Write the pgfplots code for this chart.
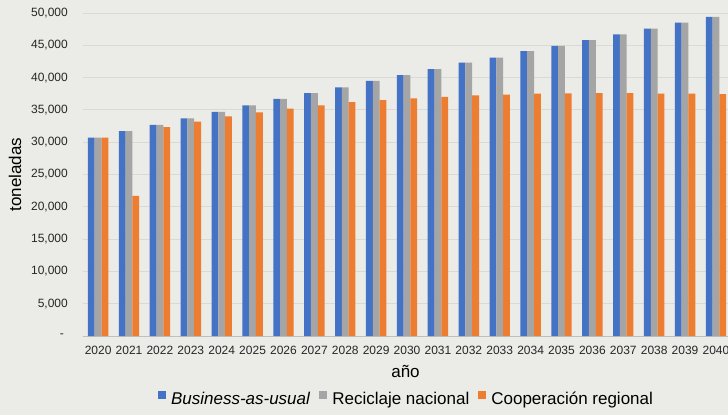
\documentclass[border=0pt]{standalone}
\usepackage{pgfplots}
\pgfplotsset{compat=1.18}
\usepackage{fontspec}
\setmainfont{Liberation Sans}
\definecolor{bg}{HTML}{EBEBE7}
\definecolor{gridc}{HTML}{D9D9D6}
\definecolor{axc}{HTML}{BFBFBF}
\definecolor{cblue}{HTML}{4472C4}
\definecolor{cgray}{HTML}{A5A5A5}
\definecolor{corange}{HTML}{ED7D31}
\begin{document}
\begin{tikzpicture}
\fill[bg] (-83pt,-79pt) rectangle (645pt,336pt);
\begin{axis}[
  at={(0,0)}, anchor=south west,
  scale only axis, width=645pt, height=323pt,
  xmin=-0.49, xmax=20.39, ymin=0, ymax=50000,
  scaled y ticks=false,
  ybar, bar width=0.22,
  axis x line=bottom, axis y line=left,
  x axis line style={-, draw=axc, line width=0.8pt},
  y axis line style={-, draw=none},
  major tick length=0pt,
  ymajorgrids, grid style={gridc, line width=0.8pt},
  ytick={0,5000,10000,15000,20000,25000,30000,35000,40000,45000,50000},
  yticklabels={{-\phantom{-}},{5,000},{10,000},{15,000},{20,000},{25,000},{30,000},{35,000},{40,000},{45,000},{50,000}},
  xtick={0,1,2,3,4,5,6,7,8,9,10,11,12,13,14,15,16,17,18,19,20},
  xticklabels={2020,2021,2022,2023,2024,2025,2026,2027,2028,2029,2030,2031,2032,2033,2034,2035,2036,2037,2038,2039,2040},
  yticklabel style={font=\fontsize{12}{14}\selectfont, color=black!85, anchor=east, inner sep=0pt, xshift=-15pt},
  xticklabel style={font=\fontsize{12}{14}\selectfont, color=black!85, anchor=north, inner sep=0pt, yshift=-10pt},
  xlabel={año},
  xlabel style={font=\fontsize{17}{20}\selectfont, at={(axis description cs:0.5,0)}, anchor=center, yshift=-35pt},
  ylabel={toneladas},
  ylabel style={font=\fontsize{17}{20}\selectfont, at={(axis description cs:-0.1054,0.5)}, anchor=center},
  legend columns=3,
  legend style={at={(axis description cs:0.5,0)}, anchor=center, yshift=-62pt, draw=none, fill=none,
    font=\fontsize{17}{20}\selectfont, inner sep=0pt,
    /tikz/every even column/.append style={column sep=9pt},
    nodes={inner sep=0pt, text depth=0pt}},
  legend cell align=left,
  legend image code/.code={\fill[#1, draw=none] (0pt,-1pt) rectangle (8pt,7pt); \path (13pt,0pt);},
]
\addplot[fill=cblue, draw=none, bar shift=-0.22] coordinates {
(0,30700) (1,31700) (2,32700) (3,33700) (4,34700) (5,35700) (6,36700) (7,37600) (8,38500) (9,39500) (10,40400)
(11,41300) (12,42300) (13,43100) (14,44100) (15,44900) (16,45800) (17,46700) (18,47600) (19,48500) (20,49400)};
\addplot[fill=cgray, draw=none, bar shift=0] coordinates {
(0,30700) (1,31700) (2,32700) (3,33700) (4,34700) (5,35700) (6,36700) (7,37600) (8,38500) (9,39500) (10,40400)
(11,41300) (12,42300) (13,43100) (14,44100) (15,44900) (16,45800) (17,46700) (18,47600) (19,48500) (20,49400)};
\addplot[fill=corange, draw=none, bar shift=0.22] coordinates {
(0,30700) (1,21700) (2,32350) (3,33200) (4,34000) (5,34600) (6,35200) (7,35700) (8,36200) (9,36500) (10,36800)
(11,37000) (12,37250) (13,37350) (14,37500) (15,37550) (16,37600) (17,37600) (18,37500) (19,37500) (20,37450)};
\legend{\textit{Business-as-usual}, Reciclaje nacional, Cooperación regional}
\end{axis}
\pgfresetboundingbox
\useasboundingbox (-83pt,-79pt) rectangle (645pt,336pt);
\end{tikzpicture}
\end{document}
